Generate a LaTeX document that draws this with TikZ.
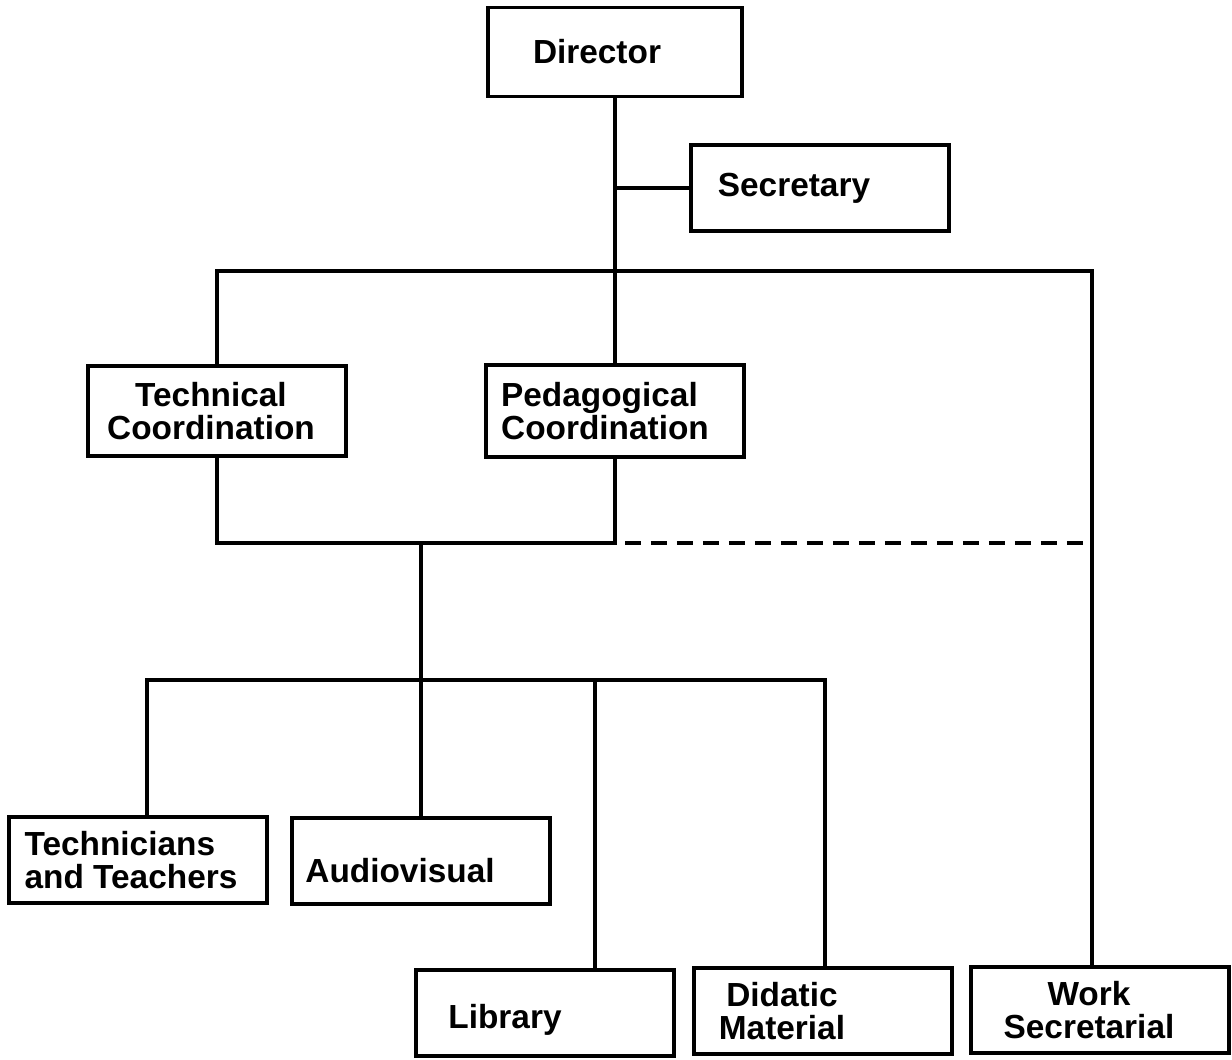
\documentclass[tikz,border=0pt]{standalone}
\usepackage{fontspec}
\setmainfont{Liberation Sans}

\tikzset{
  box/.style={draw, line width=1.9pt, minimum width=5.16cm, minimum height=1.72cm, inner sep=0pt},
  txt/.style={font=\fontsize{19}{19}\selectfont\bfseries, align=center, inner sep=0pt},
  link/.style={line width=1.9pt},
}

\begin{document}
\begin{tikzpicture}[x=0.02cm, y=-0.02cm]
    \useasboundingbox (0,0) rectangle (1232,1060);
    % boxes
    \node[box, minimum width=5.08cm, minimum height=1.78cm,
      label={[txt,xshift=-0.36cm]center:Director}] (dir) at (615,52) {};
    \node[box, label={[txt,xshift=-0.52cm]center:Secretary}] (sec) at (820,188) {};
    \node[box, minimum height=1.8cm,
      label={[txt,xshift=-0.12cm]center:Technical\\Coordination}] (tech) at (217,411) {};
    \node[box, minimum height=1.84cm,
      label={[txt,align=left,xshift=-0.2cm]center:Pedagogical\\Coordination}] (ped) at (615,411) {};
    \node[box, label={[txt,align=left,xshift=-0.14cm]center:Technicians\\and Teachers}] (techn) at (138,860) {};
    \node[box, label={[txt,xshift=-0.42cm,yshift=-0.2cm]center:Audiovisual}] (av) at (421,861) {};
    \node[box, label={[txt,xshift=-0.8cm,yshift=-0.14cm]center:Library}] (lib) at (545,1013) {};
    \node[box, label={[txt,xshift=-0.82cm]center:Didatic\\Material}] (did) at (823,1011) {};
    \node[box, label={[txt,xshift=-0.22cm]center:Work\\Secretarial}] (work) at (1100,1010) {};
    % joints
    \coordinate (s) at (615,188);
    \coordinate (tl) at (217,271);
    \coordinate (tr) at (1092,271);
    \coordinate (ml) at (217,543);
    \coordinate (mr) at (615,543);
    \coordinate (dr) at (1092,543);
    \coordinate (st) at (421,543);
    \coordinate (l1) at (147,680);
    \coordinate (l3) at (595,680);
    \coordinate (l4) at (825,680);
    % lines
    \draw[link] (dir) -- (ped);
    \draw[link] (s) -- (sec.west);
    \draw[link] (tech.north) -- (tl) -- (tr) -- (tr |- work.north);
    \draw[link] (tech.south) -- (ml) -- (mr) -- (ped.south);
    \draw[link, dash pattern=on 0.32cm off 0.2cm] ([xshift=0.2cm]mr) -- (dr);
    \draw[link] (st) -- (av);
    \draw[link] (l1 |- techn.north) -- (l1) -- (l4) -- (l4 |- did.north);
    \draw[link] (l3) -- (l3 |- lib.north);
\end{tikzpicture}
\end{document}
